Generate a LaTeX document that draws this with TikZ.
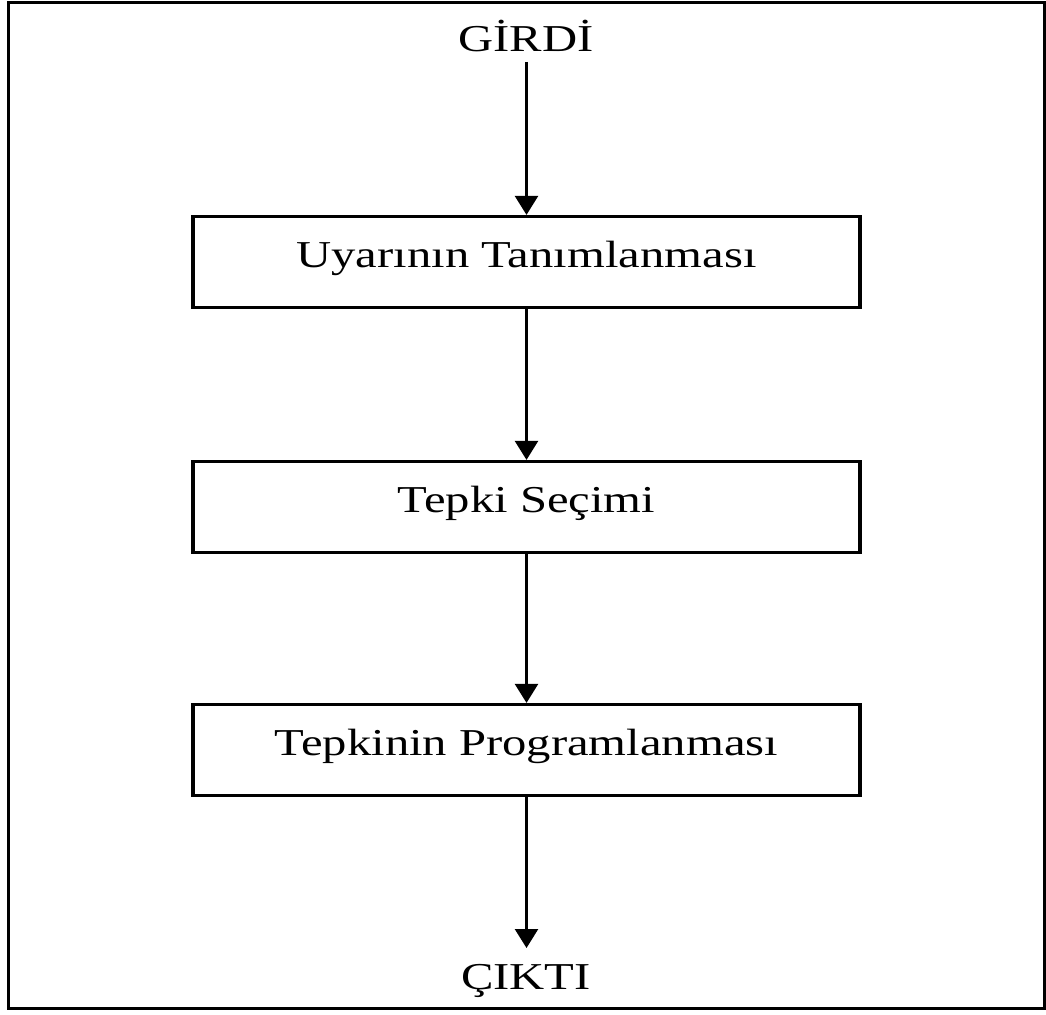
\documentclass[tikz,border=0pt]{standalone}
\usepackage{fontspec}
\setmainfont{Liberation Serif}[FakeStretch=1.28]
\usetikzlibrary{arrows.meta}
\begin{document}
\begin{tikzpicture}[x=1pt,y=-1pt,
  stagebox/.style={draw, line width=3.2pt, minimum width=667pt, minimum height=91pt,
    inner sep=0pt, text height=22pt, text depth=12pt, font=\fontsize{38}{40}\selectfont},
  label text/.style={font=\fontsize{38}{40}\selectfont},
  flow/.style={line width=2.5pt, -{Triangle[width=23pt,length=19pt]}}]
  \useasboundingbox (0,0) rectangle (1046,1014);
  % outer frame
  \draw[line width=3pt] (8,3) rectangle (1044,1008);

  % input and output labels
  \node[label text, anchor=base, inner sep=0pt] (girdiText) at (526,52) {GİRDİ};
  \node[label text, anchor=base, inner sep=0pt] (cikti) at (526,989) {ÇIKTI};
  \coordinate (girdi) at (526.5,62);
  \coordinate (ciktiTop) at (526.5,948);

  % processing stages
  \node[stagebox] (tanim) at (526.5,262) {Uyarının Tanımlanması};
  \node[stagebox] (secim) at (526.5,507) {Tepki Seçimi};
  \node[stagebox] (prog)  at (526.5,750) {Tepkinin Programlanması};

  % flow
  \draw[flow] (girdi) -- (tanim.north);
  \draw[flow] (tanim.south) -- (secim.north);
  \draw[flow] (secim.south) -- (prog.north);
  \draw[flow] (prog.south) -- (ciktiTop);
\end{tikzpicture}
\end{document}
